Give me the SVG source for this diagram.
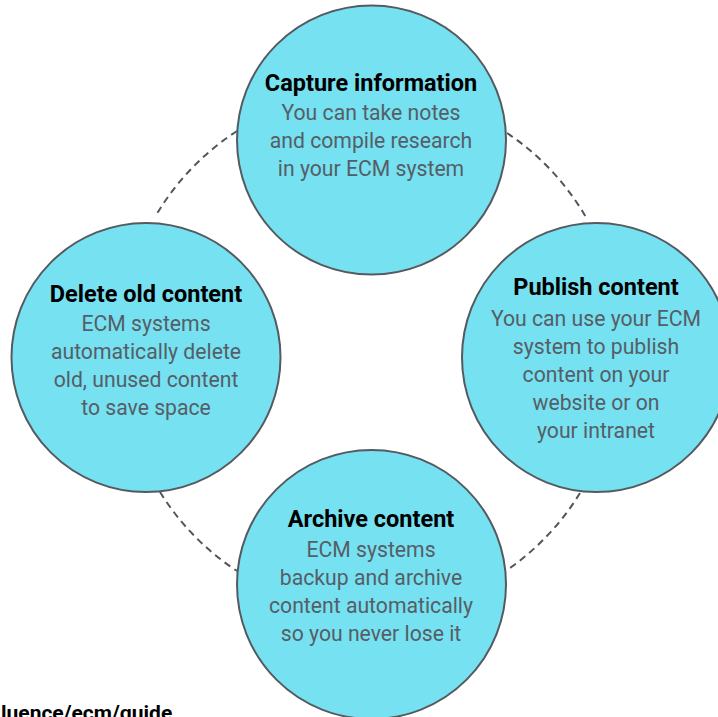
<svg xmlns="http://www.w3.org/2000/svg" width="718" height="717" viewBox="0 0 718 717">
<style>
.node{fill:#76e1f1;stroke:#555a60;stroke-width:2}
.conn{fill:none;stroke:#50555c;stroke-width:2;stroke-dasharray:7 5}
.t{font-family:Roboto,"Liberation Sans",sans-serif;font-weight:bold;font-size:23.5px;fill:#000;text-anchor:middle}
.b{font-family:Roboto,"Liberation Sans",sans-serif;font-size:21.2px;fill:#555e66;text-anchor:middle}
.f{font-family:Roboto,"Liberation Sans",sans-serif;font-weight:bold;font-size:21px;fill:#000}
</style>
<rect width="718" height="717" fill="#fff"/>
<g id="connectors">
<path class="conn" d="M237,131 A256,256 0 0 0 155,217"/>
<path class="conn" d="M507,133 A256,256 0 0 1 587,219"/>
<path class="conn" d="M160,492 A256,256 0 0 0 237,571"/>
<path class="conn" d="M580,493 A256,256 0 0 1 510,568"/>
</g>
<g id="capture">
<circle class="node" cx="371.5" cy="140" r="134.5"/>
<text class="t" x="371" y="91">Capture information</text>
<text class="b" x="371" y="120">You can take notes</text>
<text class="b" x="371" y="148">and compile research</text>
<text class="b" x="371" y="176">in your ECM system</text>
</g>
<g id="delete">
<circle class="node" cx="146" cy="357.5" r="134.5"/>
<text class="t" x="146" y="302">Delete old content</text>
<text class="b" x="146" y="331">ECM systems</text>
<text class="b" x="146" y="359">automatically delete</text>
<text class="b" x="146" y="387">old, unused content</text>
<text class="b" x="146" y="415">to save space</text>
</g>
<g id="publish">
<circle class="node" cx="596.5" cy="357.5" r="134.5"/>
<text class="t" x="596" y="295">Publish content</text>
<text class="b" x="596" y="326">You can use your ECM</text>
<text class="b" x="596" y="354">system to publish</text>
<text class="b" x="596" y="382">content on your</text>
<text class="b" x="596" y="410">website or on</text>
<text class="b" x="596" y="438">your intranet</text>
</g>
<g id="archive">
<circle class="node" cx="371.5" cy="584.5" r="134.5"/>
<text class="t" x="371" y="527">Archive content</text>
<text class="b" x="371" y="557">ECM systems</text>
<text class="b" x="371" y="585">backup and archive</text>
<text class="b" x="371" y="613">content automatically</text>
<text class="b" x="371" y="641">so you never lose it</text>
</g>
<text class="f" x="1" y="720">luence/ecm/guide</text>
</svg>
